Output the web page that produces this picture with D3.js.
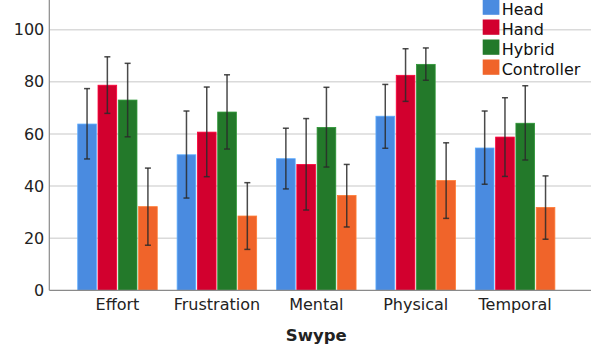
<!DOCTYPE html>
<html>
<head>
<meta charset="utf-8">
<script src="https://cdn.jsdelivr.net/npm/d3@7"></script>
<style>
  html, body { margin: 0; padding: 0; background: #fff; }
  svg { display: block; font-family: "DejaVu Sans", sans-serif; }
</style>
</head>
<body>
<svg id="chart" width="591" height="354"></svg>
<script>
// Workload subscales (x axis groups)
const categories = ["Effort", "Frustration", "Mental", "Physical", "Temporal"];
// Input techniques (bar series)
const seriesNames = ["Head", "Hand", "Hybrid", "Controller"];
const seriesColors = ["#4a8be0", "#d2002e", "#23792a", "#f0642a"];

// Mean scores per technique, one value per category
const headMean       = [63.8, 52.0, 50.5, 66.8, 54.6];
const handMean       = [78.7, 60.7, 48.3, 82.5, 58.8];
const hybridMean     = [73.0, 68.4, 62.5, 86.7, 64.1];
const controllerMean = [32.1, 28.5, 36.4, 42.1, 31.8];

// Error bar limits (lower / upper) per technique
const headLow        = [50.4, 35.4, 38.9, 54.5, 40.7];
const headHigh       = [77.4, 68.8, 62.2, 79.0, 68.8];
const handLow        = [67.9, 43.6, 30.8, 72.5, 43.7];
const handHigh       = [89.6, 78.0, 65.9, 92.7, 73.9];
const hybridLow      = [58.9, 54.2, 47.3, 80.6, 50.0];
const hybridHigh     = [87.1, 82.7, 77.9, 93.0, 78.5];
const controllerLow  = [17.3, 15.7, 24.3, 27.6, 19.6];
const controllerHigh = [46.9, 41.3, 48.3, 56.6, 43.9];

const yTicks = [0, 20, 40, 60, 80, 100];
const xTitle = "Swype";

const means = [headMean, handMean, hybridMean, controllerMean];
const lows  = [headLow, handLow, hybridLow, controllerLow];
const highs = [headHigh, handHigh, hybridHigh, controllerHigh];

const rows = [];
categories.forEach((c, ci) => {
  seriesNames.forEach((s, si) => {
    rows.push({ cat: c, series: s, si,
      mean: means[si][ci], low: lows[si][ci], high: highs[si][ci] });
  });
});

const svg = d3.select("#chart");
const W = 591;
const axisX = 49.3, axisY = 290.3;

const y = d3.scaleLinear().domain([0, 111.4]).range([axisY, 0]);
const x0 = d3.scaleBand().domain(categories).range([axisX, 583.3])
  .paddingInner(0.2).paddingOuter(0.286);
const x1 = d3.scaleBand().domain(seriesNames).range([0, x0.bandwidth()])
  .paddingInner(0.08).paddingOuter(0);
const color = d3.scaleOrdinal().domain(seriesNames).range(seriesColors);

// Horizontal gridlines
svg.append("g").selectAll("line").data(yTicks.filter(t => t > 0)).join("line")
  .attr("x1", axisX).attr("x2", W)
  .attr("y1", d => y(d)).attr("y2", d => y(d))
  .attr("stroke", "#dadada").attr("stroke-width", 1.5);

// Bars
svg.append("g").selectAll("rect").data(rows).join("rect")
  .attr("x", d => x0(d.cat) + x1(d.series))
  .attr("y", d => y(d.mean))
  .attr("width", x1.bandwidth())
  .attr("height", d => y(0) - y(d.mean))
  .attr("fill", d => color(d.series))
  .attr("stroke", d => d3.color(color(d.series)).brighter(0.6))
  .attr("stroke-width", 0.8);

// Error bars
const eb = svg.append("g").attr("stroke", "#2a2a2a").attr("stroke-opacity", 0.85).attr("stroke-width", 1.5);
const cx = d => x0(d.cat) + x1(d.series) + x1.bandwidth() / 2;
eb.selectAll("line.v").data(rows).join("line").attr("class", "v")
  .attr("x1", cx).attr("x2", cx)
  .attr("y1", d => y(d.low)).attr("y2", d => y(d.high));
eb.selectAll("line.t").data(rows).join("line").attr("class", "t")
  .attr("x1", d => cx(d) - 3).attr("x2", d => cx(d) + 3)
  .attr("y1", d => y(d.high)).attr("y2", d => y(d.high));
eb.selectAll("line.b").data(rows).join("line").attr("class", "b")
  .attr("x1", d => cx(d) - 3).attr("x2", d => cx(d) + 3)
  .attr("y1", d => y(d.low)).attr("y2", d => y(d.low));

// Y axis
const yAxis = svg.append("g").attr("transform", `translate(${axisX},0)`)
  .call(d3.axisLeft(y).tickValues(yTicks).tickSize(0).tickPadding(5));
yAxis.select(".domain").remove();
yAxis.selectAll("text").attr("font-size", 16).attr("fill", "#222")
  .attr("font-family", "DejaVu Sans, sans-serif");
svg.append("line").attr("x1", axisX).attr("x2", axisX).attr("y1", 0).attr("y2", axisY)
  .attr("stroke", "#8a8a8a").attr("stroke-width", 1.2);

// X axis
const xAxis = svg.append("g").attr("transform", `translate(0,${axisY})`)
  .call(d3.axisBottom(x0).tickSize(0).tickPadding(8));
xAxis.select(".domain").remove();
xAxis.selectAll("text").attr("font-size", 16).attr("fill", "#222")
  .attr("font-family", "DejaVu Sans, sans-serif");
svg.append("line").attr("x1", axisX).attr("x2", W).attr("y1", axisY).attr("y2", axisY)
  .attr("stroke", "#8a8a8a").attr("stroke-width", 1.2);

// X axis title
svg.append("text").attr("x", (axisX + 583.3) / 2).attr("y", 341)
  .attr("text-anchor", "middle").attr("font-size", 16.5).attr("font-weight", "bold")
  .attr("fill", "#222").text(xTitle);

// Legend
const legend = svg.append("g").attr("transform", "translate(482.7,0)");
const li = legend.selectAll("g").data(seriesNames).join("g")
  .attr("transform", (d, i) => `translate(0,${i * 20})`);
li.append("rect").attr("x", 0).attr("y", -0.5).attr("width", 16.7).attr("height", 15.3)
  .attr("fill", d => color(d));
li.append("text").attr("x", 19).attr("y", 14.5).attr("font-size", 16)
  .attr("fill", "#111").text(d => d);
</script>
</body>
</html>
